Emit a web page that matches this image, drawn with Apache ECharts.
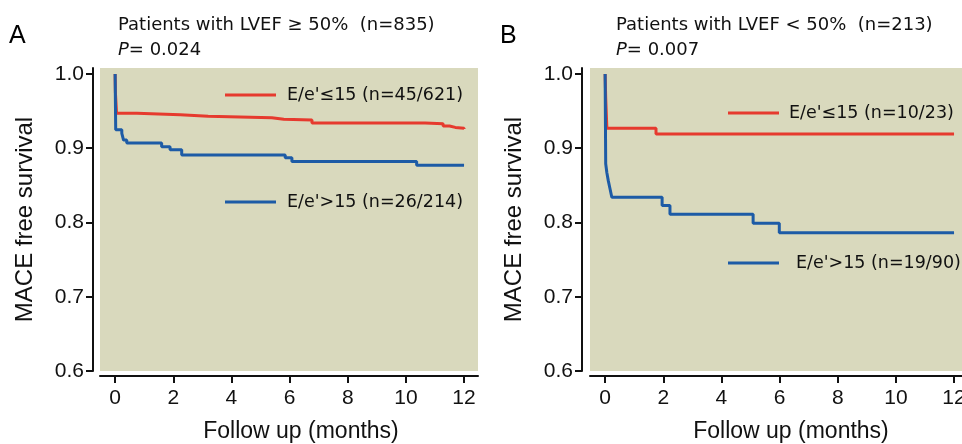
<!DOCTYPE html>
<html>
<head>
<meta charset="utf-8">
<script src="https://cdn.jsdelivr.net/npm/echarts@6/dist/echarts.min.js"></script>
<style>
  html, body { margin: 0; padding: 0; background: #fff; }
  #chart { width: 962px; height: 444px; }
</style>
</head>
<body>
<div id="chart"></div>
<script>
// tick labels
const monthTicks = [0, 2, 4, 6, 8, 10, 12];
const survTicks = [0.6, 0.7, 0.8, 0.9, 1.0];

// panel A: LVEF >= 50%
const aLowTime = [0, 0.01, 0.05, 0.75, 2.24, 3.2, 5.39, 5.8, 6.77, 10.66, 11.28, 11.5, 11.7, 12.0];
const aLowSurv = [1.0, 0.975, 0.947, 0.945, 0.943, 0.941, 0.939, 0.938, 0.934, 0.933, 0.930, 0.928, 0.927, 0.926];
const aHighTime = [0, 0.02, 0.23, 0.29, 0.40, 1.6, 1.89, 2.29, 5.85, 6.08, 10.37, 12.0];
const aHighSurv = [1.0, 0.925, 0.920, 0.911, 0.907, 0.902, 0.898, 0.891, 0.887, 0.882, 0.877, 0.877];

// panel B: LVEF < 50%
const bLowTime = [0, 0.02, 0.06, 1.75, 12.0];
const bLowSurv = [1.0, 0.968, 0.927, 0.919, 0.919];
const bHighTime = [0, 0.02, 0.06, 0.11, 0.17, 0.23, 1.96, 2.23, 5.09, 5.99, 12.0];
const bHighSurv = [1.0, 0.879, 0.867, 0.856, 0.845, 0.834, 0.823, 0.811, 0.799, 0.786, 0.786];

const names = ["E/e'≤15 (n=45/621)", "E/e'>15 (n=26/214)", "E/e'≤15 (n=10/23)", "E/e'>15 (n=19/90)"];

const RED = '#e63a2e';
const BLUE = '#1d5ba6';
const TXT = '#111';

const pairs = (t, s) => t.map((v, i) => [v, s[i]]);

const myChart = echarts.init(document.getElementById('chart'));

const xAxisOf = (gi) => ({
  type: 'value',
  gridIndex: gi,
  min: -0.52,
  max: 12.48,
  offset: 5,
  name: 'Follow up (months)',
  nameLocation: 'middle',
  nameGap: 44,
  nameTextStyle: { fontFamily: 'Liberation Sans', fontSize: 23, color: TXT, padding: [0, 0, 0, 24] },
  splitLine: { show: false },
  axisLine: { show: true, onZero: false, lineStyle: { color: '#111', width: 2 } },
  axisTick: { show: true, length: 7, lineStyle: { color: '#111', width: 2 }, customValues: monthTicks },
  axisLabel: { customValues: monthTicks, margin: 12, fontFamily: 'Liberation Sans', fontSize: 21, color: TXT }
});

const yAxisOf = (gi, off) => ({
  type: 'value',
  gridIndex: gi,
  min: 0.6,
  max: 1.008,
  offset: off,
  name: 'MACE free survival',
  nameLocation: 'middle',
  nameGap: 56,
  nameTextStyle: { fontFamily: 'Liberation Sans', fontSize: 24, color: TXT },
  splitLine: { show: false },
  axisLine: { show: true, onZero: false, lineStyle: { color: '#111', width: 2 } },
  axisTick: { show: true, length: 7, lineStyle: { color: '#111', width: 2 }, customValues: survTicks },
  axisLabel: {
    customValues: survTicks, margin: 9, fontFamily: 'Liberation Sans', fontSize: 21, color: TXT,
    formatter: (v) => Number(v).toFixed(1)
  }
});

const line = (name, color, gi, data) => ({
  type: 'line',
  name: name,
  xAxisIndex: gi,
  yAxisIndex: gi,
  step: 'end',
  symbol: 'none',
  data: data,
  lineStyle: { color: color, width: 3 },
  itemStyle: { color: color },
  animation: false
});

const legendOf = (name, left, top, gap) => ({
  data: [name],
  left: left,
  top: top,
  padding: 0,
  icon: 'rect',
  itemWidth: 51,
  itemHeight: 3,
  selectedMode: false,
  textStyle: { fontFamily: 'DejaVu Sans', fontSize: 17.5, color: TXT, lineHeight: 20, padding: [0, 0, 0, gap] }
});

const titleRich = {
  a: { fontFamily: 'DejaVu Sans', fontSize: 18, fontWeight: 'normal', color: TXT, lineHeight: 25 },
  i: { fontFamily: 'DejaVu Sans', fontSize: 18, fontWeight: 'normal', color: TXT, lineHeight: 25, fontStyle: 'italic' }
};

let option = {
  backgroundColor: '#fff',
  animation: false,
  title: [
    { text: 'A', left: 9, top: 24, padding: 0, textStyle: { fontFamily: 'Liberation Sans', fontSize: 25, fontWeight: 'normal', color: '#000' } },
    { text: '{a|Patients with LVEF ≥ 50%  (n=835)}\n{i|P}{a|= 0.024}', left: 118, top: 13, padding: 0, textStyle: { fontWeight: 'normal', rich: titleRich } },
    { text: 'B', left: 500, top: 24, padding: 0, textStyle: { fontFamily: 'Liberation Sans', fontSize: 25, fontWeight: 'normal', color: '#000' } },
    { text: '{a|Patients with LVEF < 50%  (n=213)}\n{i|P}{a|= 0.007}', left: 616, top: 13, padding: 0, textStyle: { fontWeight: 'normal', rich: titleRich } }
  ],
  grid: [
    { left: 100, top: 68, width: 378, height: 303, show: true, backgroundColor: '#d9d9bd', borderWidth: 0, outerBoundsMode: 'none' },
    { left: 590, top: 68, width: 378, height: 303, show: true, backgroundColor: '#d9d9bd', borderWidth: 0, outerBoundsMode: 'none' }
  ],
  legend: [
    legendOf(names[0], 225, 85, 6),
    legendOf(names[1], 225, 192, 6),
    legendOf(names[2], 728, 103, 5),
    legendOf(names[3], 728, 253, 12)
  ],
  xAxis: [xAxisOf(0), xAxisOf(1)],
  yAxis: [yAxisOf(0, 7), yAxisOf(1, 8)],
  series: [
    line(names[0], RED, 0, pairs(aLowTime, aLowSurv)),
    line(names[1], BLUE, 0, pairs(aHighTime, aHighSurv)),
    line(names[2], RED, 1, pairs(bLowTime, bLowSurv)),
    line(names[3], BLUE, 1, pairs(bHighTime, bHighSurv))
  ]
};

option && myChart.setOption(option);
</script>
</body>
</html>
